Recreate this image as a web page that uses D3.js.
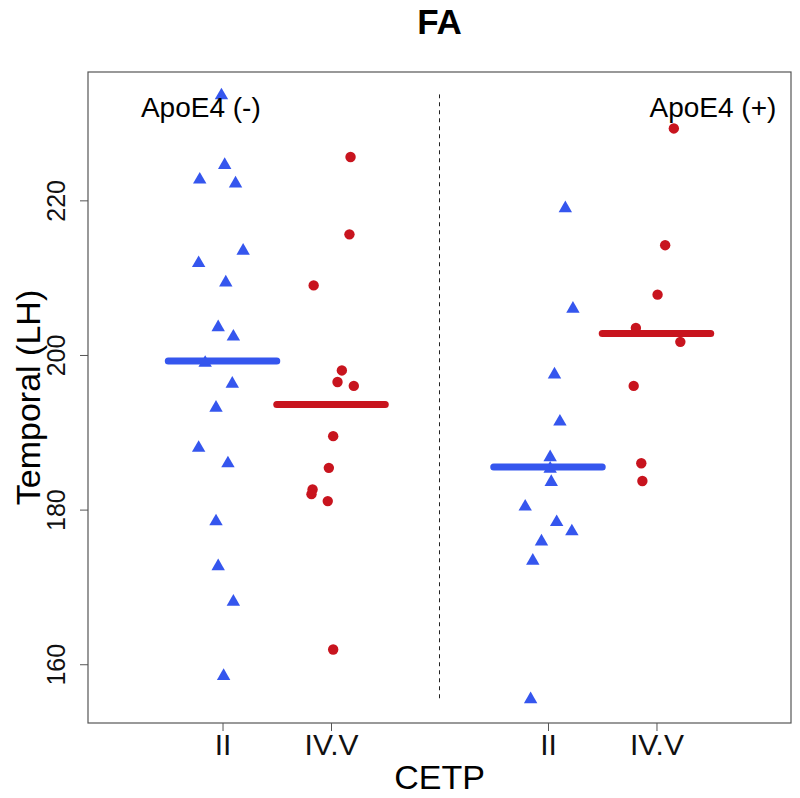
<!DOCTYPE html>
<html>
<head>
<meta charset="utf-8">
<script src="https://cdn.jsdelivr.net/npm/d3@7"></script>
<style>
    body { margin: 0; background: #fff; }
    text { font-family: "Liberation Sans", Arial, sans-serif; }
</style>
</head>
<body>
<script>
/*--------- Data -----------------*/

var groupPos = [1, 2, 4, 5];
var tickLabels = ["II", "IV.V", "II", "IV.V"];
var groupShape = ["triangle", "circle", "triangle", "circle"];

// ApoE4 (-), CETP II
var vals1 = [233.7, 224.7, 222.8, 222.3, 213.6, 212.0, 209.5, 203.7, 202.5, 199.1, 196.4, 193.3, 188.1, 186.1, 178.6, 172.8, 168.2, 158.6];
var jit1 = [-0.01, 0.02, -0.21, 0.12, 0.19, -0.22, 0.03, -0.04, 0.10, -0.16, 0.09, -0.06, -0.22, 0.05, -0.06, -0.04, 0.10, 0.01];
// ApoE4 (-), CETP IV.V
var vals2 = [225.6, 215.6, 209.0, 198.0, 196.5, 196.0, 189.5, 185.4, 182.6, 182.0, 181.1, 161.9];
var jit2 = [0.18, 0.17, -0.16, 0.10, 0.06, 0.21, 0.02, -0.02, -0.17, -0.18, -0.03, 0.02];
// ApoE4 (+), CETP II
var vals3 = [219.1, 206.1, 197.6, 191.5, 186.9, 185.4, 183.7, 180.5, 178.5, 177.3, 176.0, 173.5, 155.6];
var jit3 = [0.16, 0.23, 0.06, 0.11, 0.02, 0.02, 0.03, -0.21, 0.08, 0.22, -0.06, -0.14, -0.16];
// ApoE4 (+), CETP IV.V
var vals4 = [229.3, 214.2, 207.8, 203.5, 201.7, 196.0, 186.0, 183.7];
var jit4 = [0.16, 0.08, 0.01, -0.19, 0.22, -0.21, -0.14, -0.13];

var yTicks = [160, 180, 200, 220];
var panelLabels = ["ApoE4 (-)", "ApoE4 (+)"];
var panelLabelPos = [0.80, 5.52];

var allVals = [vals1, vals2, vals3, vals4];
var allJit = [jit1, jit2, jit3, jit4];

var blue = "#3556ee";
var red = "#c8141e";

/*--------- Layout -----------------*/
var width = 800;
var height = 798;
var plotL = 88, plotR = 791, plotT = 72, plotB = 723;

var svg = d3.select("body")
    .append("svg")
    .attr("width", width)
    .attr("height", height);

var xscale = d3.scaleLinear()
    .domain([-0.24, 6.24])
    .range([plotL, plotR]);

var yscale = d3.scaleLinear()
    .domain([152.4, 236.6])
    .range([plotB, plotT]);

// points
var points = [];
for (var g = 0; g < allVals.length; g++) {
    for (var i = 0; i < allVals[g].length; i++) {
        points.push({ g: g, x: groupPos[g] + allJit[g][i], y: allVals[g][i] });
    }
}

// dashed separator, from min to max of the data
var flat = d3.merge(allVals);
svg.append("line")
    .attr("x1", xscale(3)).attr("x2", xscale(3))
    .attr("y1", yscale(d3.min(flat))).attr("y2", yscale(d3.max(flat)))
    .attr("stroke", "#222")
    .attr("stroke-width", 1)
    .attr("stroke-dasharray", "4,4");

var tri = d3.symbol().type(d3.symbolTriangle).size(78);

svg.append("g")
    .selectAll("path")
    .data(points.filter(d => groupShape[d.g] == "triangle"))
    .enter()
    .append("path")
    .attr("d", tri)
    .attr("transform", d => "translate(" + xscale(d.x) + "," + (yscale(d.y) + 1) + ")")
    .style("fill", blue);

svg.append("g")
    .selectAll("circle")
    .data(points.filter(d => groupShape[d.g] == "circle"))
    .enter()
    .append("circle")
    .attr("cx", d => xscale(d.x))
    .attr("cy", d => yscale(d.y))
    .attr("r", 5.2)
    .style("fill", red);

// mean bars
svg.append("g")
    .selectAll("line")
    .data(groupPos)
    .enter()
    .append("line")
    .attr("x1", (d, i) => xscale(d - 0.5))
    .attr("x2", (d, i) => xscale(d + 0.5))
    .attr("y1", (d, i) => yscale(d3.mean(allVals[i])))
    .attr("y2", (d, i) => yscale(d3.mean(allVals[i])))
    .attr("stroke", (d, i) => groupShape[i] == "triangle" ? blue : red)
    .attr("stroke-width", 7)
    .attr("stroke-linecap", "round");

/*--------- Axes -----------------*/
var x_axis = d3.axisBottom(xscale)
    .tickValues(groupPos)
    .tickFormat((d, i) => tickLabels[i])
    .tickSize(8)
    .tickSizeOuter(0);

var gx = svg.append("g")
    .attr("transform", "translate(0," + plotB + ")")
    .call(x_axis);
gx.select(".domain").remove();
gx.selectAll("line").attr("stroke", "#555");
gx.selectAll("text")
    .attr("y", 11)
    .attr("dy", "0.71em")
    .style("font-size", "30px")
    .style("font-family", "Liberation Sans, Arial, sans-serif")
    .attr("fill", "#111");

var y_axis = d3.axisLeft(yscale)
    .tickValues(yTicks)
    .tickSize(8)
    .tickSizeOuter(0);

var gy = svg.append("g")
    .attr("transform", "translate(" + plotL + ",0)")
    .call(y_axis);
gy.select(".domain").remove();
gy.selectAll("line").attr("stroke", "#555");
gy.selectAll("text")
    .attr("x", null).attr("dy", null)
    .attr("transform", "translate(-23,0) rotate(-90)")
    .attr("text-anchor", "middle")
    .style("font-size", "25px")
    .style("font-family", "Liberation Sans, Arial, sans-serif")
    .attr("fill", "#111");

// box
svg.append("rect")
    .attr("x", plotL).attr("y", plotT)
    .attr("width", plotR - plotL).attr("height", plotB - plotT)
    .attr("fill", "none")
    .attr("stroke", "#555")
    .attr("stroke-width", 1.2);

/*--------- Text -----------------*/
svg.append("text")
    .attr("x", (plotL + plotR) / 2).attr("y", 34)
    .attr("text-anchor", "middle")
    .style("font-size", "35px")
    .style("font-weight", "bold")
    .text("FA");

svg.append("text")
    .attr("x", (plotL + plotR) / 2).attr("y", 789)
    .attr("text-anchor", "middle")
    .style("font-size", "34px")
    .text("CETP");

svg.append("text")
    .attr("transform", "translate(40," + (plotT + plotB) / 2 + ") rotate(-90)")
    .attr("text-anchor", "middle")
    .style("font-size", "34px")
    .text("Temporal (LH)");

svg.append("g")
    .selectAll("text")
    .data(panelLabels)
    .enter()
    .append("text")
    .attr("x", (d, i) => xscale(panelLabelPos[i]))
    .attr("y", 117)
    .attr("text-anchor", "middle")
    .style("font-size", "28px")
    .text(d => d);
</script>
</body>
</html>
